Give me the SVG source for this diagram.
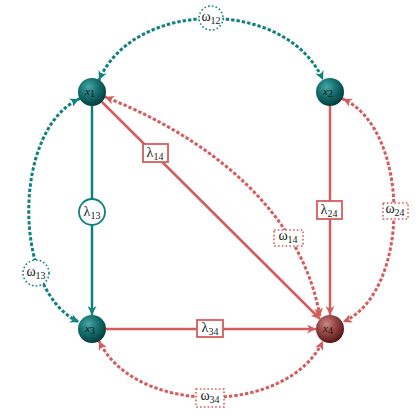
<svg xmlns="http://www.w3.org/2000/svg" width="420" height="420" viewBox="0 0 420 420">
<style>
.bg{fill:#fff}
.st{fill:none;stroke-width:2.5}
.dt{fill:none;stroke-width:3;stroke-linecap:square;stroke-dasharray:0.4 5}
.teal{stroke:#108080}
.red{stroke:#d55c5c}
.lbox{fill:#fff;stroke-width:1.8}
.wbox{fill:#fff;stroke-width:1.6;stroke-dasharray:1.6 2.2}
.lab{font-family:"Liberation Serif",serif;font-size:14px;fill:#1a1a1a;text-anchor:middle}
.sub{font-size:10px}
.nl{font-family:"Liberation Serif",serif;font-style:italic;font-size:11px;fill:#111;text-anchor:middle}
</style>
<defs>
<radialGradient id="gt" cx="0.38" cy="0.32" r="0.7">
<stop offset="0" stop-color="#4aa5a5"/>
<stop offset="0.45" stop-color="#187373"/>
<stop offset="1" stop-color="#023c3c"/>
</radialGradient>
<radialGradient id="gr" cx="0.38" cy="0.32" r="0.7">
<stop offset="0" stop-color="#c98787"/>
<stop offset="0.45" stop-color="#9a4848"/>
<stop offset="1" stop-color="#541616"/>
</radialGradient>
<marker id="at" viewBox="0 0 10 10" refX="10" refY="5" markerWidth="9" markerHeight="9" markerUnits="userSpaceOnUse" orient="auto-start-reverse">
<path d="M0,0 L10,5 L0,10 L3,5 z" fill="#108080"/>
</marker>
<marker id="ar" viewBox="0 0 10 10" refX="10" refY="5" markerWidth="9" markerHeight="9" markerUnits="userSpaceOnUse" orient="auto-start-reverse">
<path d="M0,0 L10,5 L0,10 L3,5 z" fill="#d55c5c"/>
</marker>
</defs>
<rect class="bg" width="420" height="420"/>
<g id="connectors">
<path class="st teal" d="M92 106 L92 315" marker-end="url(#at)"/>
<path class="st red" d="M102 102 L320 319" marker-end="url(#ar)"/>
<path class="st red" d="M330 106 L330 315" marker-end="url(#ar)"/>
<path class="st red" d="M106 329 L316 329" marker-end="url(#ar)"/>
<path class="dt teal" d="M99 80 C135 -2 287 -2 323 80" marker-start="url(#at)" marker-end="url(#at)"/>
<path class="dt teal" d="M79 99 C12 130 12 292 79 322" marker-start="url(#at)" marker-end="url(#at)"/>
<path class="dt red" d="M343 99 C411 130 411 292 343 322" marker-start="url(#ar)" marker-end="url(#ar)"/>
<path class="dt red" d="M99 341 C135 416 287 416 323 341" marker-start="url(#ar)" marker-end="url(#ar)"/>
<path class="dt red" d="M105 97 C190 130 300 200 320 317" marker-start="url(#ar)" marker-end="url(#ar)"/>
<g id="lab13"><circle class="lbox teal" cx="92" cy="212" r="13"/><text class="lab" x="92" y="216">λ<tspan class="sub" dy="3">13</tspan></text></g>
<g id="lab14"><rect class="lbox red" x="143" y="144" width="25" height="18"/><text class="lab" x="155" y="157">λ<tspan class="sub" dy="3">14</tspan></text></g>
<g id="lab24"><rect class="lbox red" x="317" y="201" width="25" height="18"/><text class="lab" x="329" y="214">λ<tspan class="sub" dy="3">24</tspan></text></g>
<g id="lab34"><rect class="lbox red" x="197" y="320" width="26" height="17"/><text class="lab" x="210" y="332">λ<tspan class="sub" dy="3">34</tspan></text></g>
<g id="labw12"><circle class="wbox teal" cx="211" cy="18" r="12"/><text class="lab" x="211" y="21">ω<tspan class="sub" dy="3">12</tspan></text></g>
<g id="labw13"><circle class="wbox teal" cx="36" cy="273" r="13"/><text class="lab" x="36" y="276">ω<tspan class="sub" dy="3">13</tspan></text></g>
<g id="labw14"><rect class="wbox red" x="274" y="230" width="29" height="16"/><text class="lab" x="288" y="240">ω<tspan class="sub" dy="3">14</tspan></text></g>
<g id="labw24"><rect class="wbox red" x="383" y="203" width="25" height="16"/><text class="lab" x="395" y="213">ω<tspan class="sub" dy="3">24</tspan></text></g>
<g id="labw34"><rect class="wbox red" x="196" y="389" width="28" height="18"/><text class="lab" x="210" y="400">ω<tspan class="sub" dy="3">34</tspan></text></g>
</g>
<g id="x1"><circle cx="92" cy="92" r="14" fill="url(#gt)"/><text class="nl" x="90" y="95">x<tspan class="sub" dy="2" font-style="normal" font-size="7">1</tspan></text></g>
<g id="x2"><circle cx="330" cy="92" r="14" fill="url(#gt)"/><text class="nl" x="328" y="95">x<tspan class="sub" dy="2" font-style="normal" font-size="7">2</tspan></text></g>
<g id="x3"><circle cx="92" cy="329" r="14" fill="url(#gt)"/><text class="nl" x="90" y="332">x<tspan class="sub" dy="2" font-style="normal" font-size="7">3</tspan></text></g>
<g id="x4"><circle cx="330" cy="329" r="14" fill="url(#gr)"/><text class="nl" x="328" y="332">x<tspan class="sub" dy="2" font-style="normal" font-size="7">4</tspan></text></g>
</svg>
